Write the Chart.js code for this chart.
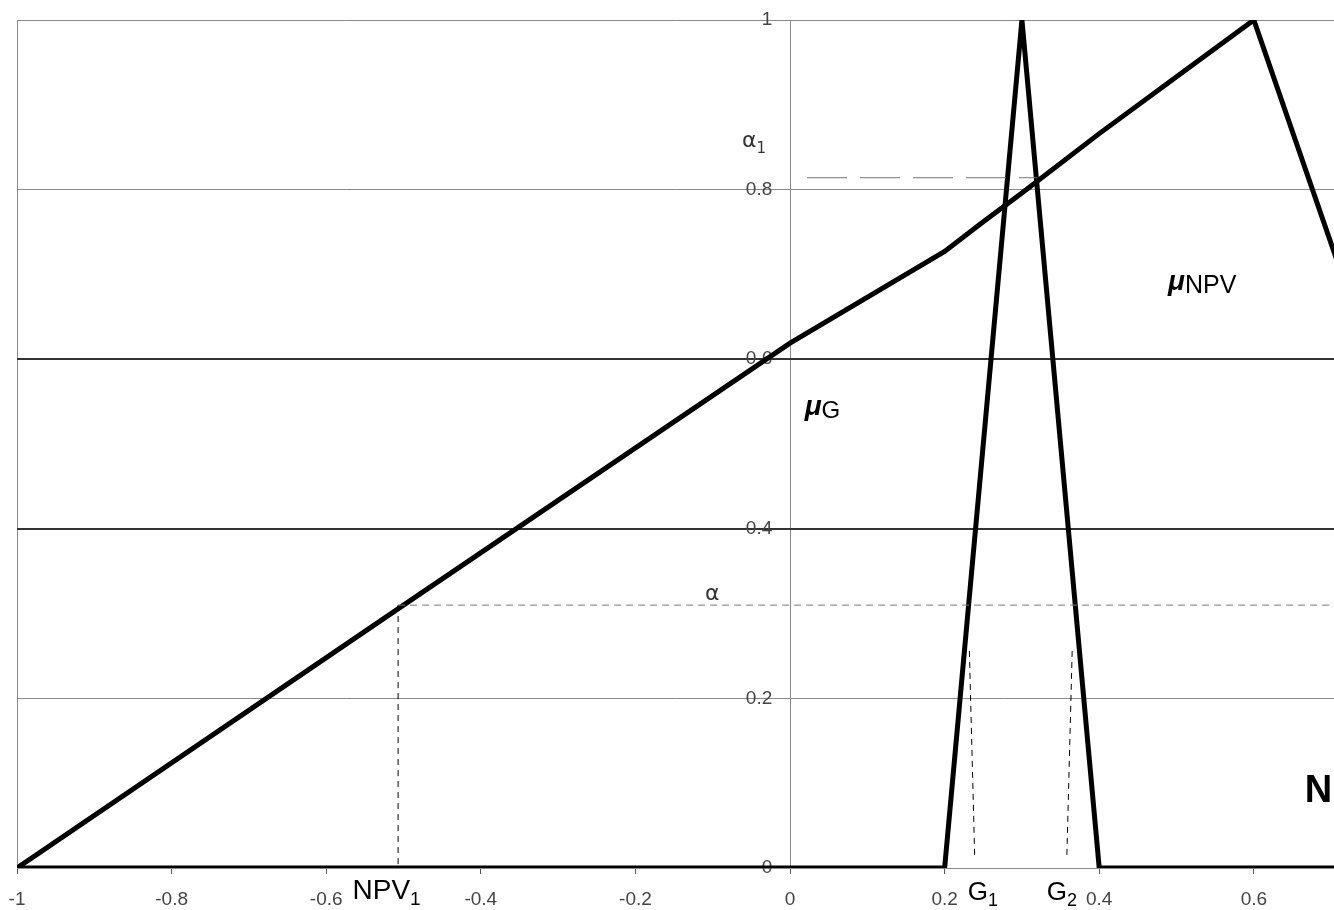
<!DOCTYPE html>
<html>
<head>
<meta charset="utf-8">
<script src="https://cdn.jsdelivr.net/npm/chart.js@4"></script>
<style>
  body { margin: 0; background: #fff; }
  #wrap { width: 1334px; height: 910px; }
</style>
</head>
<body>
<div id="wrap"><canvas id="grafico"></canvas></div>
<script>
// valores
const xTicks = [-1, -0.8, -0.6, -0.4, -0.2, 0, 0.2, 0.4, 0.6];
const yTicks = [0, 0.2, 0.4, 0.6, 0.8, 1];

// mu NPV
const npvX = [-1, -0.5, 0, 0.2, 0.25, 0.3, 0.4, 0.5, 0.6, 0.71];
const npvY = [0, 0.31, 0.619, 0.727, 0.762, 0.796, 0.866, 0.933, 1, 0.71];

// mu G (triangulo)
const gX = [-1, 0.2, 0.3, 0.4, 0.71];
const gY = [0, 0, 1, 0, 0];

// niveis alfa e cortes
const alpha = 0.31;
const alpha1 = 0.814;
const npv1 = -0.507;
const g1 = [0.232, 0.239];
const g2 = [0.365, 0.358];
const cutTop = 0.256;

const pts = (xs, ys) => xs.map((x, i) => ({ x: x, y: ys[i] }));

const linhaGrossa = { borderColor: '#000', borderWidth: 5, pointRadius: 0, showLine: true, tension: 0, fill: false };
const tracejada = (cor, dash) => ({ borderColor: cor, borderWidth: 1, borderDash: dash, pointRadius: 0, showLine: true, fill: false });

const datasets = [
  { ...tracejada('#777', [7, 5]), data: [{ x: npv1, y: alpha }, { x: 0.71, y: alpha }] },
  { ...tracejada('#777', [40, 13]), data: [{ x: 0.022, y: alpha1 }, { x: 0.32, y: alpha1 }] },
  { ...tracejada('#000', [6, 5]), data: [{ x: npv1, y: alpha }, { x: npv1, y: 0 }] },
  { ...tracejada('#000', [6, 5]), data: [{ x: g1[0], y: cutTop }, { x: g1[1], y: 0.01 }] },
  { ...tracejada('#000', [6, 5]), data: [{ x: g2[0], y: cutTop }, { x: g2[1], y: 0.01 }] },
  { ...linhaGrossa, data: pts(npvX, npvY) },
  { ...linhaGrossa, data: pts(gX, gY) }
];

// textos (posicao em coordenadas dos dados)
const textos = [
  { x: -0.062, y: 0.850, parts: [['\u03b1', '22px "DejaVu Sans"', 0], ['1', '15px "DejaVu Sans"', 6]], cor: '#333' },
  { x: -0.110, y: 0.316, parts: [['\u03b1', '22px "DejaVu Sans"', 0]], cor: '#333' },
  { x: 0.489, y: 0.682, parts: [['\u03bc', 'italic bold 28px "Liberation Sans"', 0], ['NPV', '25px "Liberation Sans"', 3]], cor: '#000' },
  { x: 0.019, y: 0.534, parts: [['\u03bc', 'italic bold 28px "Liberation Sans"', 0], ['G', '24px "Liberation Sans"', 3]], cor: '#000' },
  { x: -0.566, y: -0.037, parts: [['NPV', '28px "Liberation Sans"', 0], ['1', '19px "Liberation Sans"', 6]], cor: '#000' },
  { x: 0.230, y: -0.038, parts: [['G', '26px "Liberation Sans"', 0], ['1', '18px "Liberation Sans"', 6]], cor: '#000' },
  { x: 0.332, y: -0.038, parts: [['G', '26px "Liberation Sans"', 0], ['2', '18px "Liberation Sans"', 6]], cor: '#000' },
  { x: 0.666, y: 0.078, parts: [['NPV', 'bold 38px "Liberation Sans"', 0]], cor: '#000' }
];

const pluginTextos = {
  id: 'textos',
  afterDatasetsDraw(chart) {
    const ctx = chart.ctx;
    const sx = chart.scales.x, sy = chart.scales.y;
    ctx.save();
    ctx.textBaseline = 'alphabetic';
    ctx.textAlign = 'left';
    textos.forEach(t => {
      let px = sx.getPixelForValue(t.x);
      const py = sy.getPixelForValue(t.y);
      ctx.fillStyle = t.cor;
      t.parts.forEach(p => {
        ctx.font = p[1];
        ctx.fillText(p[0], px, py + p[2]);
        px += ctx.measureText(p[0]).width;
      });
    });
    ctx.restore();
  }
};

const fonteTick = { family: '"Liberation Sans"', size: 19 };

const grafico = document.getElementById('grafico').getContext('2d');
const myChart = new Chart(grafico, {
  type: 'scatter',
  data: { datasets: datasets },
  options: {
    responsive: true,
    maintainAspectRatio: false,
    animation: false,
    layout: { padding: { left: 17, top: 20, right: 0, bottom: 42 } },
    plugins: { legend: { display: false }, tooltip: { enabled: false } },
    scales: {
      x: {
        type: 'linear',
        position: { y: 0 },
        min: -1,
        max: 0.7037,
        afterBuildTicks: s => { s.ticks = xTicks.map(v => ({ value: v })); },
        // distancia dos rotulos vem do tickLength; o traco visivel e so 5px
        ticks: { font: fonteTick, color: '#444', padding: 0, maxRotation: 0, callback: v => String(v) },
        grid: {
          // so a borda em -1 e o eixo vertical em 0
          color: c => (c.tick && (c.tick.value === -1 || c.tick.value === 0)) ? '#8a8a8a' : 'rgba(0,0,0,0)',
          tickColor: '#555',
          tickLength: 20,
          tickBorderDash: [5, 100],
          lineWidth: 1
        },
        border: { color: '#888', width: 1 }
      },
      y: {
        type: 'linear',
        // rotulos um pouco a esquerda do eixo x=0
        position: { x: -0.023 },
        min: 0,
        max: 1,
        afterBuildTicks: s => { s.ticks = yTicks.map(v => ({ value: v })); },
        ticks: { font: fonteTick, color: '#444', padding: 0, callback: v => String(v) },
        grid: {
          color: c => (c.tick && (c.tick.value === 0.4 || c.tick.value === 0.6)) ? '#333' : '#8a8a8a',
          lineWidth: c => (c.tick && (c.tick.value === 0.4 || c.tick.value === 0.6)) ? 2 : 1,
          tickColor: 'rgba(0,0,0,0)',
          tickLength: 6
        },
        border: { display: false }
      }
    }
  },
  plugins: [pluginTextos]
});
</script>
</body>
</html>
